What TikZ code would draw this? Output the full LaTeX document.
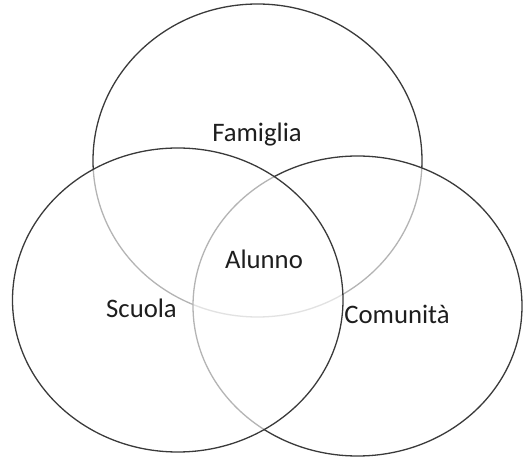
\documentclass[tikz,border=0pt]{standalone}
\usepackage{fontspec}
\setmainfont{Carlito}
\definecolor{edge}{HTML}{3A3A3A}
\definecolor{txt}{HTML}{1E1E1E}
\tikzset{
  setc/.style={draw=edge, line width=1.3pt, fill=white, fill opacity=0.62},
  lbl/.style={anchor=base, text=txt, inner sep=0pt, font=\fontsize{26.7}{30}\selectfont}
}
\begin{document}
\begin{tikzpicture}[x=1pt,y=-1pt]
\useasboundingbox (0,0) rectangle (523,457);
% Famiglia (bottom-most)
\draw[setc] (257.5,160.5) ellipse [x radius=164.5, y radius=156.5];
% Comunita
\draw[setc] (357.5,306) ellipse [x radius=164.5, y radius=150];
% Scuola (top-most)
\draw[setc] (177.75,300) ellipse [x radius=165.25, y radius=152];
\node[lbl] (fam) at (257,142) {Famiglia};
\node[lbl] (alu) at (264,269) {Alunno};
\node[lbl] (scu) at (141.5,318) {Scuola};
\node[lbl] (com) at (397,324) {Comunità};
\end{tikzpicture}
\end{document}
